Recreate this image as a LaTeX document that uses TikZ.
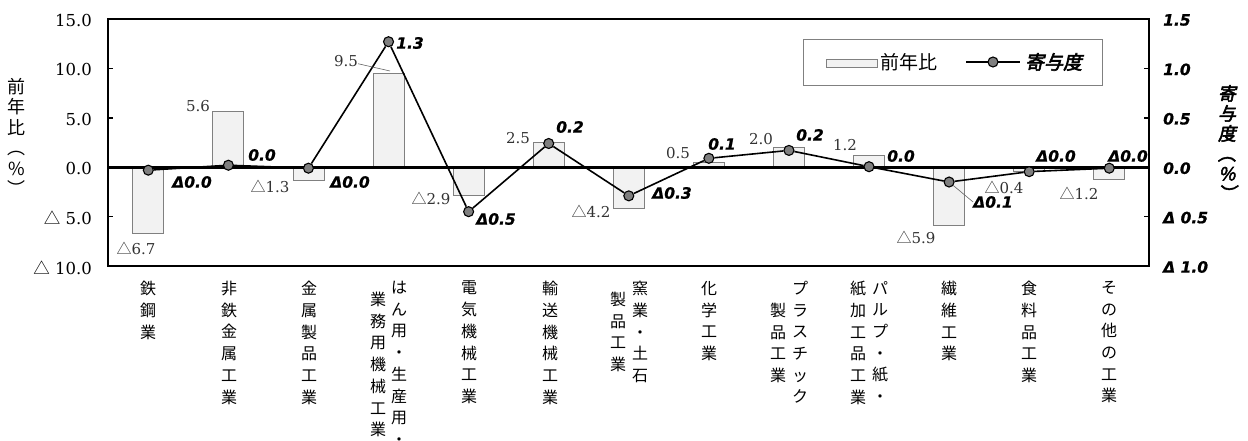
\documentclass[tikz,border=0pt]{standalone}
\usepackage{fontspec}
\setmainfont{DejaVu Serif}
\newfontfamily\jpfont{Noto Sans CJK JP}
\newfontfamily\jpbifont[FakeBold=3,FakeSlant=0.2]{Noto Sans CJK JP}
\newfontfamily\numfont[BoldItalicFeatures={FakeBold=1}]{DejaVu Sans}
\newcommand\dtri{{\jpfont △}}
\definecolor{barfill}{HTML}{F2F2F2}
\definecolor{barline}{HTML}{808080}
\definecolor{markfill}{HTML}{7F7F7F}
\tikzset{
  bar/.style={draw=barline, fill=barfill, line width=0.8pt},
  mk/.style={circle, draw=black, fill=markfill, line width=1.1pt, minimum size=10pt, inner sep=0pt},
  ctl/.style={line width=1.6pt},
  leader/.style={draw=black!60, line width=0.6pt},
  tick/.style={inner sep=0pt, font=\fontsize{16.5}{18}\selectfont},
  rtick/.style={inner sep=0pt, font=\numfont\bfseries\itshape\fontsize{15.5}{18}\selectfont},
  dlab/.style={inner sep=0pt, text=black!80, font=\fontsize{15}{18}\selectfont},
  klab/.style={inner sep=0pt, font=\numfont\bfseries\itshape\fontsize{15.5}{18}\selectfont},
  cat/.style={anchor=north, align=center, inner sep=0pt, font=\jpfont\fontsize{16}{21.7}\selectfont},
}
\begin{document}
\begin{tikzpicture}[x=1pt,y=-1pt]
  \useasboundingbox (0,0) rectangle (1248,441);
  %% bars
  \foreach \v [count=\i from 0] in {-6.7,5.6,-1.3,9.5,-2.9,2.5,-4.2,0.5,2.0,1.2,-5.9,-0.4,-1.2} {
    \pgfmathsetmacro\cx{148.3+80.08*\i}
    \draw[bar] ({\cx-15.5},167.2) rectangle ({\cx+15.5},{167.2-9.88*\v});
  }
  %% frame, zero line, ticks
  \draw[line width=2.5pt] (108,19) rectangle (1149,266);
  \draw[line width=3pt] (108,167.2) -- (1149,167.2);
  \foreach \y in {68.4,117.8,216.6} {
    \draw[line width=1.5pt] (108,\y) -- +(5,0);
    \draw[line width=1.5pt] (1149,\y) -- +(-5,0);
  }
  \foreach \t/\y [count=\n] in {15.0/19,10.0/68.4,5.0/117.8,0.0/167.2,{\dtri\ 5.0}/216.6,{\dtri\ 10.0}/266}
    \node[tick, anchor=east] (yl\n) at (92,\y+1.5) {\t};
  \foreach \t/\y [count=\n] in {1.5/19,1.0/68.4,0.5/117.8,0.0/167.2,{Δ 0.5}/216.6,{Δ 1.0}/266}
    \node[rtick, anchor=west] (yr\n) at (1163,\y+1) {\t};
  \node[cat, font=\jpfont\fontsize{18}{20.5}\selectfont] (ytl) at (17,78) {前\\年\\比\\︵\\\%\\︶};
  \node[cat, font=\jpbifont\fontsize{18}{20}\selectfont] (ytr) at (1227,85) {寄\\与\\度\\︵\\\%\\︶};
  %% contribution line
  \foreach \k [count=\i from 0] in {-0.03,0.02,-0.01,1.27,-0.45,0.24,-0.29,0.09,0.17,0.005,-0.15,-0.045,-0.01}
    \node[mk] (m\i) at ({148.3+80.08*\i},{167.2-98.8*\k}) {};
  \draw[ctl] (m0) -- (m1) -- (m2) -- (m3) -- (m4) -- (m5) -- (m6) -- (m7) -- (m8) -- (m9) -- (m10) -- (m11) -- (m12);
  %% labels of the bars
  \foreach \x/\y/\t [count=\i from 0] in {136/248/{\dtri6.7},198/106/5.6,270/186/{\dtri1.3},346/61/9.5,
      431/198/{\dtri2.9},518/138/2.5,591/211/{\dtri4.2},678/153/0.5,761/139/2.0,845/145/1.2,
      916/237/{\dtri5.9},1004/187/{\dtri0.4},1079/193/{\dtri1.2}}
    \node[dlab] (d\i) at (\x,\y) {\t};
  \coordinate (d3t) at (390,71);
  \draw[leader] (d3) -- (d3t);
  %% labels of the line
  \foreach \x/\y/\t [count=\i from 0] in {192/182/Δ0.0,262/155/0.0,350/182/Δ0.0,410/43/1.3,
      496/219/Δ0.5,570/127/0.2,672/193/Δ0.3,722/144/0.1,810/135/0.2,901/156/0.0,
      993/202/Δ0.1,1056/156/Δ0.0,1128/156/Δ0.0}
    \node[klab] (k\i) at (\x,\y) {\t};
  \draw[leader] (m10) -- (k10.west);
  %% legend
  \node[draw=barline, line width=0.8pt, anchor=north west, minimum width=299, minimum height=46] (leg) at (803,39) {};
  \draw[bar] (826,59) rectangle (877,67);
  \node[anchor=west, inner sep=0pt, font=\jpfont\fontsize{19}{20}\selectfont] (legb) at (880,62) {前年比};
  \coordinate (lla) at (966,62);
  \coordinate (llb) at (1020,62);
  \draw[ctl] (lla) -- (llb);
  \node[mk] (legm) at (993,62) {};
  \node[anchor=west, inner sep=0pt, font=\jpbifont\fontsize{19}{20}\selectfont] (legk) at (1025,62) {寄与度};
  %% categories
  \node[cat] (c0) at (148,281) {鉄\\鋼\\業};
  \node[cat] (c1) at (229,281) {非\\鉄\\金\\属\\工\\業};
  \node[cat] (c2) at (309,281) {金\\属\\製\\品\\工\\業};
  \node[cat] (c3a) at (399,281) {は\\ん\\用\\・\\生\\産\\用\\・};
  \node[cat] (c3b) at (378,291.9) {業\\務\\用\\機\\械\\工\\業};
  \node[cat] (c4) at (469,281) {電\\気\\機\\械\\工\\業};
  \node[cat] (c5) at (550,281) {輸\\送\\機\\械\\工\\業};
  \node[cat] (c6a) at (640,281) {窯\\業\\・\\土\\石};
  \node[cat] (c6b) at (618,291.9) {製\\品\\工\\業};
  \node[cat] (c7) at (709,281) {化\\学\\工\\業};
  \node[cat] (c8a) at (800,281) {プ\\ラ\\ス\\チ\\ッ\\ク};
  \node[cat] (c8b) at (778,302.7) {製\\品\\工\\業};
  \node[cat] (c9a) at (880,281) {パ\\ル\\プ\\・\\紙\\・};
  \node[cat] (c9b) at (858,281) {紙\\加\\工\\品\\工\\業};
  \node[cat] (c10) at (949,281) {繊\\維\\工\\業};
  \node[cat] (c11) at (1029,281) {食\\料\\品\\工\\業};
  \node[cat] (c12) at (1109,281) {そ\\の\\他\\の\\工\\業};
\end{tikzpicture}
\end{document}
